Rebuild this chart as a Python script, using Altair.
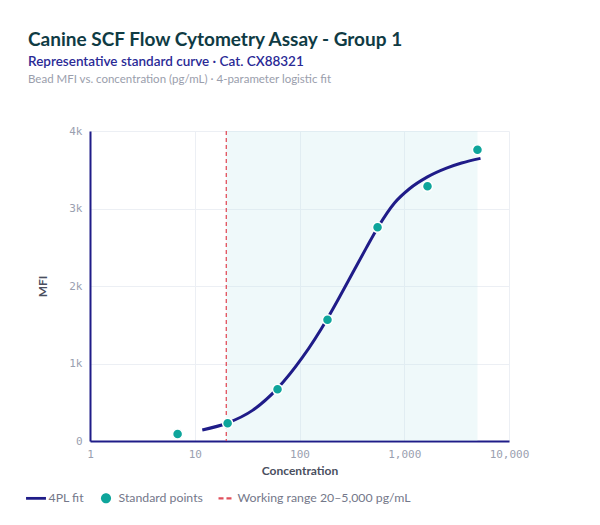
import altair as alt
import pandas as pd

# ---- data ----
std_conc = [6.86, 20.6, 61.7, 185, 556, 1667, 5000]
std_mfi = [90, 228, 667, 1565, 2757, 3286, 3759]

fit_conc = [11.8, 20.5, 35.6, 61.7, 107, 185, 241, 323, 433, 556, 807, 1122, 1667, 2531, 3524, 5346]
fit_mfi = [142, 232, 395, 679, 1081, 1581, 1857, 2174, 2489, 2749, 3071, 3255, 3408, 3521, 3587, 3647]

range_lo = [20]
range_hi = [5000]

series_names = ["4PL fit", "Standard points", "Working range 20–5,000 pg/mL"]
x_ticks = [1, 10, 100, 1000, 10000]
y_ticks = [0, 1000, 2000, 3000, 4000]

title_text = "Canine SCF Flow Cytometry Assay - Group 1"
subtitle_text = "Representative standard curve · Cat. CX88321"
note_text = "Bead MFI vs. concentration (pg/mL) · 4-parameter logistic fit"

NAVY = "#1f1c88"
TEAL = "#0ea59b"
RED = "#e0505c"
FONT = "Lato"
MONO = "DejaVu Sans Mono"

std_df = pd.DataFrame({"conc": std_conc, "mfi": std_mfi, "series": "Standard points"})
fit_df = pd.DataFrame({"conc": fit_conc, "mfi": fit_mfi})
range_df = pd.DataFrame({"lo": range_lo, "hi": range_hi})
note_df = pd.DataFrame({"t": [note_text]})

x_scale = alt.Scale(type="log", domain=[1, 10000])
y_scale = alt.Scale(domain=[0, 4000])
x_axis = alt.Axis(values=x_ticks, format=",", title="Concentration", labelFlush=False)
y_axis = alt.Axis(
    values=y_ticks, title="MFI",
    labelExpr="datum.value == 0 ? '0' : format(datum.value, '~s')",
)

band = alt.Chart(range_df).mark_rect(color="#bfe6ec", opacity=0.25).encode(
    x=alt.X("lo:Q", scale=x_scale, axis=x_axis),
    x2="hi:Q",
)

rule = alt.Chart(range_df).mark_rule(color=RED, strokeDash=[4, 3], strokeWidth=1.3).encode(
    x=alt.X("lo:Q", scale=x_scale, axis=x_axis),
)

line = alt.Chart(fit_df).mark_line(color=NAVY, strokeWidth=3, interpolate="monotone").encode(
    x=alt.X("conc:Q", scale=x_scale, axis=x_axis),
    y=alt.Y("mfi:Q", scale=y_scale, axis=y_axis),
)

shape_paths = [
    "M-1.15,-0.16H1.15V0.16H-1.15Z",
    "M-0.58,0A0.58,0.58 0 1,0 0.58,0A0.58,0.58 0 1,0 -0.58,0Z",
    "M-0.75,-0.12H-0.17V0.12H-0.75Z M0.17,-0.12H0.75V0.12H0.17Z",
]

points = alt.Chart(std_df).mark_point(
    filled=True, size=300, stroke="white", strokeWidth=1.5, opacity=1
).encode(
    x=alt.X("conc:Q", scale=x_scale, axis=x_axis),
    y=alt.Y("mfi:Q", scale=y_scale, axis=y_axis),
    color=alt.Color(
        "series:N",
        scale=alt.Scale(domain=series_names, range=[NAVY, TEAL, RED]),
        legend=alt.Legend(
            orient="none", legendX=-63, legendY=358, direction="horizontal",
            title=None, symbolSize=300, symbolStrokeWidth=0, symbolOpacity=1,
            labelFont=FONT, labelFontSize=12.3, labelColor="#74788a",
            columnPadding=13, labelOffset=3.5, padding=0, labelLimit=0,
        ),
    ),
    shape=alt.Shape("series:N", scale=alt.Scale(domain=series_names, range=shape_paths)),
)

note = alt.Chart(note_df).mark_text(
    align="left", baseline="alphabetic", font=FONT, fontSize=11.5, color="#9a9eac"
).encode(x=alt.value(-62), y=alt.value(-48), text="t:N")

chart = alt.layer(band, rule, line, points, note).properties(
    width=419,
    height=310,
    autosize=alt.AutoSizeParams(type="none"),
    padding={"left": 82, "top": 123, "right": 83, "bottom": 76},
    background="white",
    title=alt.TitleParams(
        text=title_text,
        subtitle=subtitle_text,
        anchor="start",
        frame="group",
        dx=-62,
        offset=6,
        font=FONT,
        fontSize=19,
        fontWeight="bold",
        color="#0f3b44",
        subtitleFont=FONT,
        subtitleFontSize=13.5,
        subtitleFontWeight=600,
        subtitleColor="#2a2a96",
        subtitlePadding=5,
    ),
).configure_view(stroke=None).configure_axis(
    domainColor=NAVY,
    domainWidth=2,
    gridColor="#eceff4",
    gridWidth=1,
    ticks=False,
    tickSize=0,
    labelFont=MONO,
    labelFontSize=11,
    labelColor="#9aa0b0",
    titleFont=FONT,
    titleFontSize=12,
    titleFontWeight="bold",
    titleColor="#4a4f60",
).configure_axisX(labelPadding=7, titlePadding=6).configure_axisY(labelPadding=8, titlePadding=19)

chart.save("out.html", embed_options={"renderer": "svg", "actions": False})
